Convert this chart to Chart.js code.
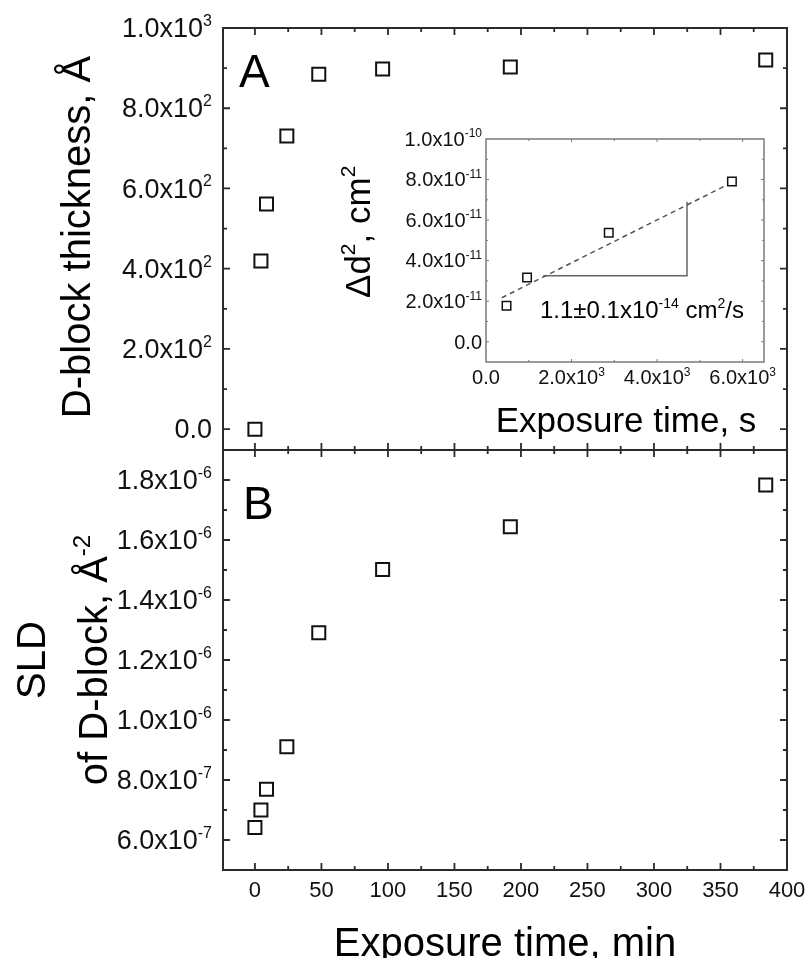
<!DOCTYPE html>
<html>
<head>
<meta charset="utf-8">
<title>D-block thickness and SLD vs exposure time</title>
<script src="https://cdn.jsdelivr.net/npm/chart.js@4.4.1/dist/chart.umd.min.js"></script>
<style>
body { margin:0; background:#fff; }
#wrap { position:relative; width:809px; height:958px; }
#wrap canvas { position:absolute; left:0; top:0; }
</style>
</head>
<body>
<div id="wrap">
<canvas id="chartA" width="809" height="958"></canvas>
<canvas id="chartB" width="809" height="958"></canvas>
<canvas id="chartInset" width="809" height="958"></canvas>
</div>
<script>
// main panels, time in minutes
var timeMin = [0, 4.5, 8.7, 24, 48, 96, 192, 384];
var thickness = [0, 419, 561, 731, 885, 898, 903, 920];
var sldValues = [6.42e-7, 7.0e-7, 7.69e-7, 9.11e-7, 1.291e-6, 1.502e-6, 1.644e-6, 1.783e-6];

// inset, time in seconds
var insetTime = [480, 960, 2870, 5750];
var insetDd2 = [1.78e-11, 3.17e-11, 5.37e-11, 7.9e-11];
var fitTime = [370, 5650];
var fitDd2 = [2.17e-11, 7.75e-11];
var slopeTime = [1340, 4700, 4700];
var slopeDd2 = [3.25e-11, 3.25e-11, 6.9e-11];

// ticks and labels
var xTicks = [0, 50, 100, 150, 200, 250, 300, 350, 400];
var xLabels = ["0", "50", "100", "150", "200", "250", "300", "350", "400"];
var yTicksA = [0, 200, 400, 600, 800, 1000];
var yLabelsA = ["0.0", "2.0x10^{2}", "4.0x10^{2}", "6.0x10^{2}", "8.0x10^{2}", "1.0x10^{3}"];
var yTicksB = [6e-7, 8e-7, 1e-6, 1.2e-6, 1.4e-6, 1.6e-6, 1.8e-6];
var yLabelsB = ["6.0x10^{-7}", "8.0x10^{-7}", "1.0x10^{-6}", "1.2x10^{-6}", "1.4x10^{-6}", "1.6x10^{-6}", "1.8x10^{-6}"];
var insetXTicks = [0, 2000, 4000, 6000];
var insetXLabels = ["0.0", "2.0x10^{3}", "4.0x10^{3}", "6.0x10^{3}"];
var insetYTicks = [0, 2e-11, 4e-11, 6e-11, 8e-11, 1e-10];
var insetYLabels = ["0.0", "2.0x10^{-11}", "4.0x10^{-11}", "6.0x10^{-11}", "8.0x10^{-11}", "1.0x10^{-10}"];

var FONT = '"Liberation Sans", Arial, Helvetica, sans-serif';

// split "a^{b}c" into normal / superscript pieces
function richParts(str)
{
	var out = [], re = /\^\{([^}]*)\}/g, last = 0, m;
	while ((m = re.exec(str)) !== null)
	{
		if (m.index > last) out.push([str.slice(last, m.index), false]);
		out.push([m[1], true]);
		last = re.lastIndex;
	}
	if (last < str.length) out.push([str.slice(last), false]);
	return out;
}

// y is the baseline
function drawRich(ctx, str, x, y, size, align)
{
	var parts = richParts(str);
	var sup = Math.round(size * 0.6);
	var total = 0, widths = [];
	for (var i = 0; i < parts.length; i++)
	{
		ctx.font = (parts[i][1] ? sup : size) + 'px ' + FONT;
		widths[i] = ctx.measureText(parts[i][0]).width;
		total += widths[i];
	}
	var x0 = x;
	if (align == 'right') x0 = x - total;
	if (align == 'center') x0 = x - total / 2;
	ctx.textAlign = 'left';
	ctx.textBaseline = 'alphabetic';
	for (i = 0; i < parts.length; i++)
	{
		ctx.font = (parts[i][1] ? sup : size) + 'px ' + FONT;
		ctx.fillText(parts[i][0], x0, parts[i][1] ? y - size * 0.42 : y);
		x0 += widths[i];
	}
}

function drawRotated(ctx, str, baseX, y, size, align)
{
	ctx.save();
	ctx.translate(baseX, y);
	ctx.rotate(-Math.PI / 2);
	drawRich(ctx, str, 0, 0, size, align);
	ctx.restore();
}

function minorTicks(min, max, step, major)
{
	var out = [];
	for (var k = Math.ceil(min / step); k * step < max; k++)
	{
		var v = k * step;
		if (v - min < step * 0.1 || max - v < step * 0.1) continue;
		var isMajor = major.some(function(m) { return Math.abs(m - v) < step * 0.01; });
		if (!isMajor) out.push(v);
	}
	return out;
}

var frames = {
	chartA: {
		color: '#2b2b2b', lw: 2, tickW: 1.8, major: 7, minor: 4,
		xTicks: xTicks, xStep: 25, yTicks: yTicksA, yStep: 100,
		yLabels: yLabelsA, yLabelX: 212, labelSize: 27,
		extra: function(ctx) {
			ctx.fillStyle = '#000';
			drawRotated(ctx, 'D-block thickness, Å', 90, 237, 40, 'center');
			drawRich(ctx, 'A', 239, 87, 46, 'left');
		}
	},
	chartB: {
		color: '#2b2b2b', lw: 2, tickW: 1.8, major: 7, minor: 4,
		xTicks: xTicks, xStep: 25, yTicks: yTicksB, yStep: 1e-7,
		yLabels: yLabelsB, yLabelX: 212, labelSize: 27,
		xLabels: xLabels, xLabelY: 897, xLabelSize: 22,
		extra: function(ctx) {
			ctx.fillStyle = '#000';
			drawRotated(ctx, 'SLD', 45, 660, 40, 'center');
			drawRotated(ctx, 'of D-block, Å^{-2}', 107, 660, 40, 'center');
			drawRich(ctx, 'B', 243, 519, 46, 'left');
			drawRich(ctx, 'Exposure time, min', 505, 956, 40, 'center');
		}
	},
	chartInset: {
		color: '#7a7a7a', lw: 1.5, tickW: 1, major: 3, minor: 2,
		xTicks: insetXTicks, xStep: 1000, yTicks: insetYTicks, yStep: 1e-11,
		yLabels: insetYLabels, yLabelX: 482, labelSize: 20,
		xLabels: insetXLabels, xLabelY: 384, xLabelSize: 20,
		extra: function(ctx) {
			ctx.fillStyle = '#000';
			drawRotated(ctx, 'Δd^{2}, cm^{2}', 370, 298, 35, 'left');
			drawRich(ctx, 'Exposure time, s', 626, 432, 35, 'center');
			drawRich(ctx, '1.1±0.1x10^{-14} cm^{2}/s', 540, 318, 24, 'left');
		}
	}
};

var framePlugin = {
	id: 'frame',
	afterDraw: function(chart) {
		var f = frames[chart.canvas.id];
		var ctx = chart.ctx, a = chart.chartArea;
		var xs = chart.scales.x, ys = chart.scales.y;
		ctx.save();
		ctx.strokeStyle = f.color;
		ctx.lineWidth = f.lw;
		ctx.strokeRect(a.left, a.top, a.right - a.left, a.bottom - a.top);

		//ticks point inward on all four sides
		ctx.lineWidth = f.tickW;
		ctx.beginPath();
		function xt(v, len) {
			var p = xs.getPixelForValue(v);
			ctx.moveTo(p, a.bottom); ctx.lineTo(p, a.bottom - len);
			ctx.moveTo(p, a.top); ctx.lineTo(p, a.top + len);
		}
		function yt(v, len) {
			var p = ys.getPixelForValue(v);
			ctx.moveTo(a.left, p); ctx.lineTo(a.left + len, p);
			ctx.moveTo(a.right, p); ctx.lineTo(a.right - len, p);
		}
		f.xTicks.forEach(function(v) { if (v > xs.min && v < xs.max) xt(v, f.major); });
		minorTicks(xs.min, xs.max, f.xStep, f.xTicks).forEach(function(v) { xt(v, f.minor); });
		f.yTicks.forEach(function(v) { if (v > ys.min && v < ys.max) yt(v, f.major); });
		minorTicks(ys.min, ys.max, f.yStep, f.yTicks).forEach(function(v) { yt(v, f.minor); });
		ctx.stroke();

		ctx.fillStyle = '#111';
		for (var i = 0; i < f.yTicks.length; i++)
		{
			drawRich(ctx, f.yLabels[i], f.yLabelX, ys.getPixelForValue(f.yTicks[i]) + f.labelSize * 0.34, f.labelSize, 'right');
		}
		if (f.xLabels)
		{
			for (i = 0; i < f.xTicks.length; i++)
			{
				drawRich(ctx, f.xLabels[i], xs.getPixelForValue(f.xTicks[i]), f.xLabelY, f.xLabelSize, 'center');
			}
		}
		f.extra(ctx);
		ctx.restore();
	}
};

function toPoints(xv, yv)
{
	var pts = [];
	for (var i = 0; i < xv.length; i++) pts.push({x: xv[i], y: yv[i]});
	return pts;
}

function squares(xv, yv, r, bw)
{
	return {
		data: toPoints(xv, yv),
		pointStyle: 'rect',
		pointRadius: r,
		pointHoverRadius: r,
		borderColor: '#111',
		backgroundColor: '#fff',
		borderWidth: bw,
		showLine: false
	};
}

function baseOptions(pad, xmin, xmax, ymin, ymax)
{
	return {
		responsive: false,
		animation: false,
		events: [],
		layout: { padding: pad },
		plugins: { legend: { display: false }, tooltip: { enabled: false } },
		scales: {
			x: { type: 'linear', min: xmin, max: xmax, display: false },
			y: { type: 'linear', min: ymin, max: ymax, display: false }
		}
	};
}

new Chart(document.getElementById('chartA').getContext('2d'), {
	type: 'scatter',
	data: { datasets: [squares(timeMin, thickness, 9.2, 2)] },
	options: baseOptions({left: 223, right: 22, top: 28, bottom: 508}, -24, 400, -52, 1000),
	plugins: [framePlugin]
});

new Chart(document.getElementById('chartB').getContext('2d'), {
	type: 'scatter',
	data: { datasets: [squares(timeMin, sldValues, 9.2, 2)] },
	options: baseOptions({left: 223, right: 22, top: 450, bottom: 88}, -24, 400, 5e-7, 1.9e-6),
	plugins: [framePlugin]
});

new Chart(document.getElementById('chartInset').getContext('2d'), {
	type: 'scatter',
	data: {
		datasets: [
			squares(insetTime, insetDd2, 6, 1.5),
			{
				data: toPoints(fitTime, fitDd2),
				showLine: true, pointRadius: 0, borderColor: '#555',
				borderWidth: 1.5, borderDash: [5, 4], fill: false
			},
			{
				data: toPoints(slopeTime, slopeDd2),
				showLine: true, pointRadius: 0, borderColor: '#666',
				borderWidth: 1.5, fill: false
			}
		]
	},
	options: baseOptions({left: 486, right: 45, top: 139, bottom: 596}, 0, 6500, -1e-11, 1.0e-10),
	plugins: [framePlugin]
});
</script>
</body>
</html>
